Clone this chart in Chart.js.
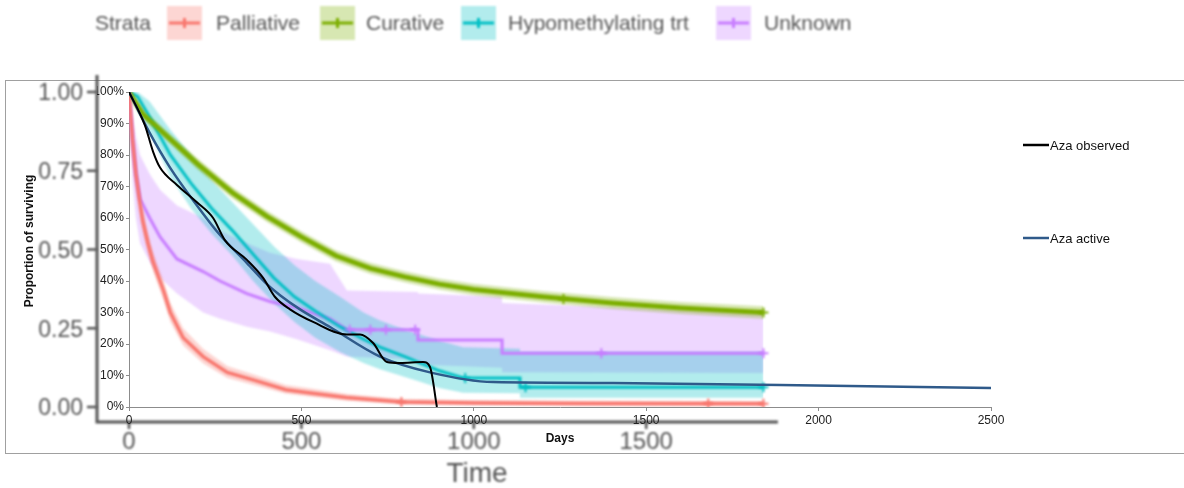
<!DOCTYPE html>
<html>
<head>
<meta charset="utf-8">
<script src="https://cdn.jsdelivr.net/npm/chart.js@4"></script>
<style>
  html, body { margin: 0; padding: 0; background: #fff; }
  #wrap { width: 1184px; height: 488px; }
</style>
</head>
<body>
<div id="wrap"><canvas id="chart" width="1184" height="488"></canvas></div>
<script>
// Kaplan-Meier strata
const palDays  = [0, 10, 20, 30, 40, 55, 70, 100, 120, 157, 215, 285, 360, 455, 520, 630, 790, 1000, 1300, 1840];
const palSurv  = [1, 0.85, 0.74, 0.66, 0.59, 0.52, 0.46, 0.37, 0.30, 0.22, 0.16, 0.11, 0.086, 0.055, 0.045, 0.03, 0.016, 0.013, 0.011, 0.01];
const palHigh  = [1, 0.88, 0.77, 0.69, 0.62, 0.55, 0.49, 0.40, 0.33, 0.25, 0.185, 0.13, 0.104, 0.07, 0.06, 0.042, 0.026, 0.022, 0.02, 0.019];
const palLow   = [1, 0.82, 0.71, 0.63, 0.56, 0.49, 0.43, 0.34, 0.27, 0.195, 0.138, 0.092, 0.07, 0.042, 0.033, 0.02, 0.009, 0.007, 0.005, 0.004];

const curDays  = [0, 40, 120, 200, 300, 400, 500, 600, 700, 800, 900, 1000, 1200, 1400, 1600, 1840];
const curSurv  = [1, 0.93, 0.85, 0.77, 0.68, 0.605, 0.54, 0.48, 0.44, 0.413, 0.39, 0.373, 0.35, 0.33, 0.314, 0.30];
const curHigh  = [1, 0.945, 0.866, 0.788, 0.698, 0.623, 0.558, 0.498, 0.458, 0.431, 0.408, 0.391, 0.368, 0.349, 0.333, 0.32];
const curLow   = [1, 0.915, 0.834, 0.752, 0.662, 0.587, 0.522, 0.462, 0.422, 0.395, 0.372, 0.355, 0.332, 0.311, 0.295, 0.28];

const hypDays  = [0, 25, 60, 120, 180, 240, 300, 360, 420, 480, 540, 612, 680, 728, 800, 844, 900, 969, 1134, 1134, 1840];
const hypSurv  = [1, 0.985, 0.92, 0.80, 0.71, 0.63, 0.56, 0.485, 0.41, 0.35, 0.305, 0.255, 0.215, 0.19, 0.16, 0.14, 0.115, 0.092, 0.092, 0.063, 0.063];
const hypHigh  = [1, 1, 0.97, 0.88, 0.80, 0.72, 0.65, 0.58, 0.51, 0.45, 0.40, 0.35, 0.30, 0.275, 0.245, 0.23, 0.21, 0.19, 0.185, 0.175, 0.175];
const hypLow   = [1, 0.96, 0.87, 0.73, 0.63, 0.55, 0.48, 0.40, 0.33, 0.27, 0.22, 0.175, 0.14, 0.12, 0.095, 0.08, 0.06, 0.045, 0.044, 0.029, 0.029];

const unkDays  = [0, 10, 20, 32, 60, 90, 139, 215, 264, 342, 409, 487, 583, 632, 838, 838, 1082, 1082, 1840];
const unkSurv  = [1, 0.85, 0.74, 0.66, 0.60, 0.54, 0.47, 0.43, 0.40, 0.36, 0.335, 0.315, 0.28, 0.245, 0.245, 0.213, 0.213, 0.171, 0.171];
const unkHigh  = [1, 0.93, 0.86, 0.80, 0.74, 0.69, 0.64, 0.60, 0.56, 0.52, 0.49, 0.47, 0.455, 0.37, 0.365, 0.36, 0.35, 0.33, 0.30];
const unkLow   = [1, 0.72, 0.60, 0.52, 0.46, 0.41, 0.36, 0.30, 0.28, 0.255, 0.24, 0.215, 0.18, 0.16, 0.15, 0.135, 0.125, 0.11, 0.108];

// censoring marks
const palCensorDays = [790, 1680, 1840];
const palCensorSurv = [0.016, 0.011, 0.01];
const curCensorDays = [1260, 1840];
const curCensorSurv = [0.343, 0.30];
const hypCensorDays = [975, 1150, 1840];
const hypCensorSurv = [0.092, 0.063, 0.063];
const unkCensorDays = [640, 700, 745, 830, 1370, 1840];
const unkCensorSurv = [0.245, 0.245, 0.245, 0.245, 0.171, 0.171];

// Aza series (Excel overlay)
const obsDays = [0, 46, 70, 90, 139, 197, 244, 278, 342, 389, 423, 467, 534, 632, 670, 708, 748, 786, 853, 873, 893];
const obsSurv = [1, 0.895, 0.81, 0.76, 0.705, 0.65, 0.60, 0.53, 0.467, 0.41, 0.35, 0.31, 0.27, 0.23, 0.23, 0.203, 0.143, 0.14, 0.143, 0.127, 0];
const actDays = [0, 60, 119, 197, 264, 342, 400, 438, 496, 583, 728, 873, 1056, 1404, 1888, 2500];
const actSurv = [1, 0.87, 0.76, 0.64, 0.546, 0.457, 0.39, 0.355, 0.31, 0.254, 0.16, 0.11, 0.079, 0.076, 0.07, 0.06];

// axis ticks
const innerYTicks = [0, 0.1, 0.2, 0.3, 0.4, 0.5, 0.6, 0.7, 0.8, 0.9, 1];
const outerYTicks = [0, 0.25, 0.5, 0.75, 1];
const outerYLabels = ["0.00", "0.25", "0.50", "0.75", "1.00"];
const outerXTicks = [0, 500, 1000, 1500];

const strata = ["Palliative", "Curative", "Hypomethylating trt", "Unknown"];
const strataColors = ["#F8766D", "#7CAE00", "#00BFC4", "#C77CFF"];
const bandColors = ["rgba(248,118,109,0.3)", "rgba(124,174,0,0.3)", "rgba(0,191,196,0.3)", "rgba(199,124,255,0.3)"];

const pts = (xs, ys) => xs.map((d, i) => ({ x: d, y: ys[i] }));

function band(xs, hi, lo, k) {
  return [
    { data: pts(xs, hi), fill: "+1", backgroundColor: bandColors[k], borderWidth: 0, pointRadius: 0, order: 20 },
    { data: pts(xs, lo), fill: false, borderWidth: 0, pointRadius: 0, order: 20 },
  ];
}
function km(xs, ys, k, w) {
  return { data: pts(xs, ys), borderColor: strataColors[k], borderWidth: w, pointRadius: 0, fill: false, order: 10 };
}
function censor(xs, ys, k) {
  return { data: pts(xs, ys), showLine: false, pointStyle: "cross", pointRadius: 5,
    pointBorderWidth: 2, pointBorderColor: strataColors[k], order: 9 };
}

const datasets = [
  ...band(palDays, palHigh, palLow, 0),
  ...band(curDays, curHigh, curLow, 1),
  ...band(hypDays, hypHigh, hypLow, 2),
  ...band(unkDays, unkHigh, unkLow, 3),
  km(palDays, palSurv, 0, 3.5),
  km(curDays, curSurv, 1, 5),
  km(hypDays, hypSurv, 2, 3),
  km(unkDays, unkSurv, 3, 3),
  censor(palCensorDays, palCensorSurv, 0),
  censor(curCensorDays, curCensorSurv, 1),
  censor(hypCensorDays, hypCensorSurv, 2),
  censor(unkCensorDays, unkCensorSurv, 3),
  { label: "Aza observed", data: pts(obsDays, obsSurv), borderColor: "#000", borderWidth: 2,
    pointRadius: 0, cubicInterpolationMode: "monotone", crisp: true, order: 1 },
  { label: "Aza active", data: pts(actDays, actSurv), borderColor: "#2f5a8a", borderWidth: 2.5,
    pointRadius: 0, cubicInterpolationMode: "monotone", crisp: true, order: 1 },
];

const GG = "#555555";
const blurPx = "blur(1px)";

// ggplot layer is blurry in the picture; Excel lines stay crisp
const blurLayer = {
  id: "blurLayer",
  beforeDatasetsDraw(chart) { chart.ctx.save(); chart.ctx.filter = blurPx; },
  afterDatasetsDraw(chart) { chart.ctx.restore(); },
  beforeDatasetDraw(chart, args) {
    if (chart.data.datasets[args.index].crisp) { chart.ctx.save(); chart.ctx.filter = "none"; }
  },
  afterDatasetDraw(chart, args) {
    if (chart.data.datasets[args.index].crisp) chart.ctx.restore();
  },
};

const decorations = {
  id: "decorations",
  beforeDraw(chart) {
    const { ctx, scales: { x, y } } = chart;
    ctx.save();
    ctx.fillStyle = "#fff";
    ctx.fillRect(0, 0, chart.width, chart.height);
    ctx.strokeStyle = "#a0a0a0";
    ctx.lineWidth = 1;
    ctx.strokeRect(5.5, 80.5, 1190, 373);

    ctx.filter = blurPx;
    // ggplot axes
    const axX = 97, axY = 422;
    ctx.strokeStyle = GG;
    ctx.lineWidth = 3;
    ctx.beginPath();
    ctx.moveTo(axX, 75);
    ctx.lineTo(axX, axY);
    ctx.lineTo(x.getPixelForValue(1882), axY);
    ctx.stroke();
    ctx.lineWidth = 2.5;
    ctx.fillStyle = GG;
    ctx.font = "23px 'Liberation Sans', Arial, sans-serif";
    ctx.textAlign = "right";
    ctx.textBaseline = "middle";
    outerYTicks.forEach((v, i) => {
      const py = y.getPixelForValue(v);
      ctx.beginPath(); ctx.moveTo(87, py); ctx.lineTo(axX, py); ctx.stroke();
      ctx.fillText(outerYLabels[i], 83, py + 2);
    });
    ctx.font = "24px 'Liberation Sans', Arial, sans-serif";
    ctx.textAlign = "center";
    outerXTicks.forEach((v) => {
      const px = x.getPixelForValue(v);
      ctx.beginPath(); ctx.moveTo(px, axY); ctx.lineTo(px, axY + 7); ctx.stroke();
      ctx.fillText(String(v), px, 442);
    });
    ctx.font = "28px 'Liberation Sans', Arial, sans-serif";
    ctx.fillText("Time", 477, 474);

    // ggplot legend
    ctx.font = "21px 'Liberation Sans', Arial, sans-serif";
    ctx.textAlign = "left";
    ctx.fillText("Strata", 95, 24);
    const boxX = [167, 320, 461, 716];
    const textX = [216, 366, 508, 764];
    strata.forEach((name, k) => {
      ctx.fillStyle = bandColors[k];
      ctx.fillRect(boxX[k], 6, 35, 34);
      ctx.strokeStyle = strataColors[k];
      ctx.lineWidth = 3;
      ctx.beginPath();
      ctx.moveTo(boxX[k] + 2, 23); ctx.lineTo(boxX[k] + 33, 23);
      ctx.moveTo(boxX[k] + 17.5, 18); ctx.lineTo(boxX[k] + 17.5, 28);
      ctx.stroke();
      ctx.fillStyle = GG;
      ctx.fillText(name, textX[k], 24);
    });
    ctx.restore();
  },
  afterDraw(chart) {
    const { ctx } = chart;
    ctx.save();
    ctx.fillStyle = "#111";
    ctx.textBaseline = "middle";
    ctx.font = "bold 12px 'Liberation Sans', Arial, sans-serif";
    ctx.textAlign = "center";
    ctx.fillText("Days", 560, 439);
    ctx.translate(30, 241);
    ctx.rotate(-Math.PI / 2);
    ctx.fillText("Proportion of surviving", 0, 0);
    ctx.setTransform(1, 0, 0, 1, 0, 0);

    // Excel legend
    const items = [["Aza observed", "#000", 145], ["Aza active", "#2f5a8a", 238]];
    ctx.font = "13px 'Liberation Sans', Arial, sans-serif";
    ctx.textAlign = "left";
    items.forEach(([label, color, ly]) => {
      ctx.strokeStyle = color;
      ctx.lineWidth = 2.5;
      ctx.beginPath(); ctx.moveTo(1023, ly); ctx.lineTo(1049, ly); ctx.stroke();
      ctx.fillStyle = "#111";
      ctx.fillText(label, 1050, ly + 1);
    });
    ctx.restore();
  },
};

new Chart(document.getElementById("chart"), {
  type: "line",
  data: { datasets },
  options: {
    responsive: false,
    animation: false,
    layout: { padding: { left: 97, top: 92, right: 193, bottom: 59 } },
    plugins: { legend: { display: false }, tooltip: { enabled: false } },
    scales: {
      x: {
        type: "linear", min: 0, max: 2500,
        afterFit: (s) => { s.height = 22; },
        ticks: { stepSize: 500, color: "#222", padding: 2,
          callback: (v) => String(v),
          font: { family: "'Liberation Sans', Arial, sans-serif", size: 12 } },
        grid: { drawOnChartArea: false, tickLength: 4, color: "#8c8c8c" },
        border: { color: "#8c8c8c" },
      },
      y: {
        min: 0, max: 1,
        afterFit: (s) => { s.width = 32; },
        afterBuildTicks: (s) => { s.ticks = innerYTicks.map((v) => ({ value: v })); },
        ticks: { color: "#222", padding: 2,
          callback: (v) => Math.round(v * 100) + "%",
          font: { family: "'Liberation Sans', Arial, sans-serif", size: 12 } },
        grid: { drawOnChartArea: false, tickLength: 3, color: "#8c8c8c" },
        border: { color: "#8c8c8c" },
      },
    },
  },
  plugins: [blurLayer, decorations],
});
</script>
</body>
</html>
